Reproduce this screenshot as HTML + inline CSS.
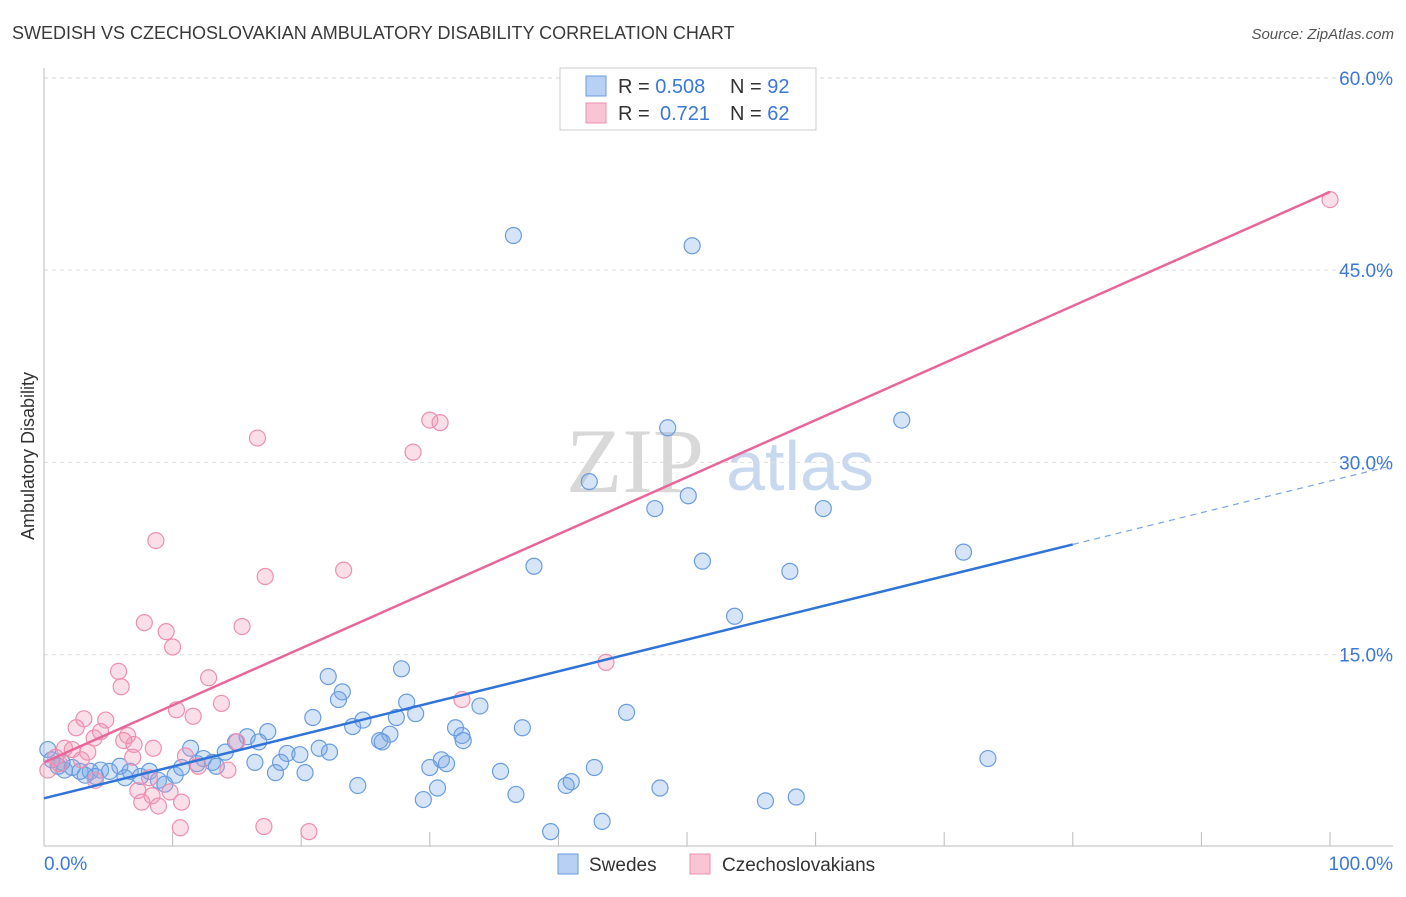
<!DOCTYPE html>
<html><head><meta charset="utf-8"><style>
body{margin:0;background:#fff;font-family:"Liberation Sans",sans-serif;}
svg text{font-family:"Liberation Sans",sans-serif;}
</style></head><body>
<svg id="chart" width="1406" height="892" xmlns="http://www.w3.org/2000/svg">
<text x="12" y="39" font-size="18" fill="#3a3a3a">SWEDISH VS CZECHOSLOVAKIAN AMBULATORY DISABILITY CORRELATION CHART</text>
<text x="1394" y="39" font-size="15" fill="#555" text-anchor="end" font-style="italic">Source: ZipAtlas.com</text>
<text transform="translate(34,456) rotate(-90)" font-size="18" fill="#333" text-anchor="middle">Ambulatory Disability</text>
<g>
<text x="635" y="492" font-size="92" fill="#d8d8d8" text-anchor="middle" style="font-family:'Liberation Serif',serif">ZIP</text>
<text x="800" y="490" font-size="70" fill="#c8d8ee" text-anchor="middle">atlas</text>
</g>
<g id="grid"></g><g id="axes"></g><g id="pts"></g><g id="lines"></g>
<g>
<rect x="560" y="68" width="256" height="62" fill="#fff" stroke="#ccc"/>
<rect x="586" y="76" width="20" height="20" fill="#b8d0f4" stroke="#6a9de0"/>
<rect x="586" y="103" width="20" height="20" fill="#f9c4d4" stroke="#ee8fb0"/>
<text x="618" y="93" font-size="20" fill="#333">R = <tspan fill="#3b78d8">0.508</tspan></text>
<text x="730" y="93" font-size="20" fill="#333">N = <tspan fill="#3b78d8">92</tspan></text>
<text x="618" y="120" font-size="20" fill="#333">R = </text><text x="660" y="120" font-size="20" fill="#3b78d8">0.721</text>
<text x="730" y="120" font-size="20" fill="#333">N = <tspan fill="#3b78d8">62</tspan></text>
</g>
<g>
<rect x="558" y="854" width="20" height="20" fill="#b8d0f4" stroke="#6a9de0"/>
<text x="589" y="871" font-size="19" fill="#333">Swedes</text>
<rect x="690" y="854" width="20" height="20" fill="#f9c4d4" stroke="#ee8fb0"/>
<text x="722" y="871" font-size="19" fill="#333">Czechoslovakians</text>
</g>
</svg>
<script>
const yTicks=[15,30,45,60];
const yTickLabels=["15.0%","30.0%","45.0%","60.0%"];
const xTicks=[0,10,20,30,40,50,60,70,80,90,100];
const blueX=[36.5,50.4,48.5,66.7,42.4,47.5,50.1,60.6,71.5,38.1,51.2,58.0,53.7,27.8,22.1,23.2,22.9,28.2,33.9,28.9,45.3,20.9,24.8,27.4,24.0,32.0,37.2,17.4,26.9,32.5,32.6,26.1,26.3,15.8,16.7,14.9,73.4,21.4,22.2,18.9,19.9,11.4,14.1,12.4,13.1,13.4,11.9,16.4,18.4,30.9,31.3,30.0,42.8,18.0,20.3,35.5,41.0,40.6,30.6,24.4,47.9,36.7,29.5,56.1,58.5,43.4,39.4,0.3,0.6,1.1,1.6,2.2,2.8,3.6,4.4,5.1,5.9,6.7,7.5,8.2,8.9,9.4,10.2,10.7,6.3,4.0,3.2,1.4];
const blueY=[47.7,46.9,32.7,33.3,28.5,26.4,27.4,26.4,23.0,21.9,22.3,21.5,18.0,13.9,13.3,12.1,11.5,11.3,11.0,10.4,10.5,10.1,9.9,10.1,9.4,9.3,9.3,9.0,8.8,8.7,8.3,8.3,8.2,8.6,8.2,8.2,6.9,7.7,7.4,7.3,7.2,7.7,7.4,6.9,6.6,6.3,6.5,6.6,6.6,6.8,6.5,6.2,6.2,5.8,5.8,5.9,5.1,4.8,4.6,4.8,4.6,4.1,3.7,3.6,3.9,2.0,1.2,7.6,6.8,6.3,6.0,6.2,5.9,5.9,6.0,5.9,6.3,5.9,5.5,5.9,5.2,4.9,5.6,6.2,5.4,5.5,5.6,6.6];
const pinkX=[100,30,30.8,16.6,28.7,8.7,17.2,23.3,7.8,15.4,9.5,10.0,43.7,5.8,12.8,6.0,32.5,13.8,10.3,11.6,3.1,4.8,2.5,4.4,6.5,3.9,6.2,7.0,15.0,8.5,1.6,2.2,3.4,11.0,6.9,0.9,2.9,12.0,14.3,8.2,4.0,7.3,9.8,8.4,7.6,10.7,8.9,10.6,17.1,20.6,0.3,1.2];
const pinkY=[50.5,33.3,33.1,31.9,30.8,23.9,21.1,21.6,17.5,17.2,16.8,15.6,14.4,13.7,13.2,12.5,11.5,11.2,10.7,10.2,10.0,9.9,9.3,9.0,8.7,8.5,8.3,8.0,8.2,7.7,7.7,7.6,7.4,7.1,7.0,7.0,6.8,6.3,6.0,5.4,5.2,4.4,4.3,4.0,3.5,3.5,3.2,1.5,1.6,1.2,6.0,6.5];
const blueFit=[3.8,0.2475];
const pinkFit=[6.6,0.445];
const X=v=>44+v*12.86, Y=v=>847-v*12.82;
const NS="http://www.w3.org/2000/svg";
function mk(parent,tag,attrs){const e=document.createElementNS(NS,tag);for(const k in attrs)e.setAttribute(k,attrs[k]);document.getElementById(parent).appendChild(e);return e;}
yTicks.forEach((t,i)=>{
 const g=mk('grid','line',{x1:44,x2:1393,y1:Y(t),y2:Y(t),stroke:'#ddd','stroke-dasharray':'4,4'});
 
 
 const l=mk('axes','text',{x:1393,y:Y(t)+7,'font-size':19,fill:'#3b78d8','text-anchor':'end'});
 l.textContent=yTickLabels[i];
 
 
});
const topGrid=mk('grid','line',{x1:44,x2:1393,y1:78,y2:78,stroke:'#ddd','stroke-dasharray':'4,4'});


const ya=mk('axes','line',{x1:44,x2:44,y1:68,y2:846,stroke:'#bbb'});


const xa=mk('axes','line',{x1:44,x2:1393,y1:846,y2:846,stroke:'#bbb'});


xTicks.forEach(t=>{const tk=mk('axes','line',{x1:X(t),x2:X(t),y1:832,y2:846,stroke:'#bbb'});
 
 });
const xl0=mk('axes','text',{x:44,y:870,'font-size':19,fill:'#3b78d8'});xl0.textContent='0.0%';


const xl1=mk('axes','text',{x:1393,y:870,'font-size':19,fill:'#3b78d8','text-anchor':'end'});xl1.textContent='100.0%';


blueX.forEach((v,i)=>{const c=mk('pts','circle',{cx:X(v),cy:Y(blueY[i]),r:8,fill:'rgba(120,165,230,0.3)',stroke:'#6a9de0','stroke-width':1.2});
 
 });
pinkX.forEach((v,i)=>{const c=mk('pts','circle',{cx:X(v),cy:Y(pinkY[i]),r:8,fill:'rgba(240,150,180,0.3)',stroke:'#ee8fb0','stroke-width':1.2});
 
 });
const bl=mk('lines','line',{x1:X(0),y1:Y(blueFit[0]),x2:X(80),y2:Y(blueFit[0]+80*blueFit[1]),stroke:'#2f74d6','stroke-width':2.5});


const bd=mk('lines','line',{x1:X(80),y1:Y(blueFit[0]+80*blueFit[1]),x2:1393,y2:Y(blueFit[0]+((1393-44)/12.86)*blueFit[1]),stroke:'#7aa5e0','stroke-width':1.2,'stroke-dasharray':'6,5'});


const pl=mk('lines','line',{x1:X(0),y1:Y(pinkFit[0]),x2:X(100),y2:Y(pinkFit[0]+100*pinkFit[1]),stroke:'#e8679a','stroke-width':2.5});


</script>
</body></html>
